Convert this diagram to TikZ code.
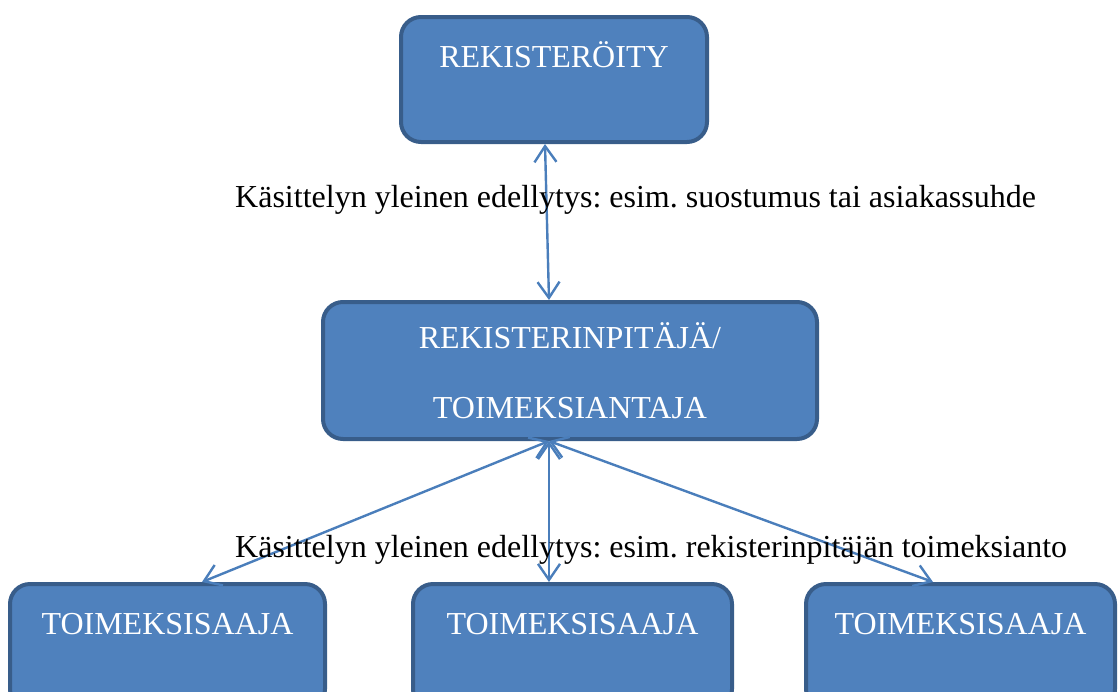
\documentclass[tikz,border=0pt]{standalone}
\usepackage{fontspec}
\setmainfont{Liberation Serif}
\usetikzlibrary{arrows.meta}
\frenchspacing

\definecolor{boxfill}{HTML}{4F81BD}
\definecolor{boxline}{HTML}{385D8A}
\definecolor{arrowblue}{HTML}{4A7EBB}

\begin{document}
\begin{tikzpicture}[%
        x = 1pt,
        y = -1pt,
        line cap = round,
        every node/.style = {%
            font = \fontsize{32}{38}\selectfont
        },
        bluebox/.style = {%
            draw = boxline,
            fill = boxfill,
            line width = 4pt,
            rounded corners = 20pt,
            text = white,
            inner sep = 0pt
        },
        titlebox/.style = {%
            bluebox,
            anchor = north,
            text height = 50pt,
            text depth = 75pt
        },
        bluearrow/.style = {%
            draw = arrowblue,
            line width = 2.4pt,
            {Straight Barb[length=16pt, width=22pt]}-{Straight Barb[length=16pt, width=22pt]}
        }
    ]
        \useasboundingbox (0, 0) rectangle (1118, 691);
        % boxes
        \node[titlebox, minimum width = 306pt] (reg) at (554, 15) {REKISTERÖITY};
        \node[%
            bluebox,
            minimum width = 494pt,
            minimum height = 137pt,
            align = center
        ] (ctrl) at (570, 370.5) {\raisebox{-3pt}{REKISTERINPITÄJÄ/}\\[32pt]\raisebox{-3pt}{TOIMEKSIANTAJA}};
        \node[titlebox, minimum width = 315pt] (proc1) at (167.5, 582) {TOIMEKSISAAJA};
        \node[titlebox, minimum width = 319pt] (proc2) at (572.5, 582) {TOIMEKSISAAJA};
        \node[titlebox, minimum width = 309pt] (proc3) at (960.5, 582) {TOIMEKSISAAJA};
        % connectors
        \draw[bluearrow] ([xshift = -9pt]reg.south) to ([xshift = -21pt]ctrl.north);
        \draw[bluearrow] ([xshift = -21pt]ctrl.south) to ([xshift = 34.5pt]proc1.north);
        \draw[bluearrow] ([xshift = -21pt]ctrl.south) to ([xshift = -23.5pt]proc2.north);
        \draw[bluearrow] ([xshift = -21pt]ctrl.south) to ([xshift = -27.5pt]proc3.north);
        % labels
        \node[anchor = base west, inner sep = 0pt] (cond1) at (235, 207)
            {Käsittelyn yleinen edellytys: esim. suostumus tai asiakassuhde};
        \node[anchor = base west, inner sep = 0pt] (cond2) at (235, 557)
            {Käsittelyn yleinen edellytys: esim. rekisterinpitäjän toimeksianto};
    \end{tikzpicture}
\end{document}
